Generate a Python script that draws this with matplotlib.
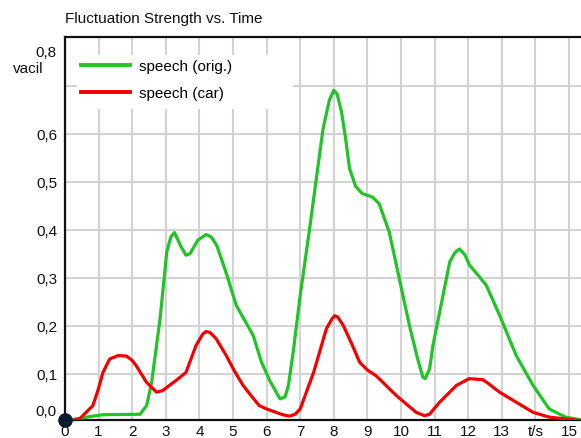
import matplotlib.pyplot as plt
from matplotlib.patches import Rectangle
from matplotlib.transforms import blended_transform_factory

plt.rcParams['font.family'] = ['Liberation Sans', 'DejaVu Sans']

# fluctuation strength (vacil) over time (s)
t_orig = [0.0, 0.4, 0.83, 1.13, 2.23, 2.43, 2.58, 2.83, 3.03, 3.15, 3.26, 3.45,
          3.6, 3.72, 3.95, 4.2, 4.35, 4.52, 4.82, 5.1, 5.4, 5.6, 5.85, 6.1,
          6.4, 6.55, 6.65, 6.8, 7.0, 7.28, 7.68, 7.87, 8.0, 8.1, 8.23, 8.35,
          8.47, 8.65, 8.85, 9.15, 9.35, 9.65, 9.95, 10.25, 10.5, 10.65, 10.72,
          10.85, 10.95, 11.25, 11.45, 11.6, 11.74, 11.9, 12.04, 12.3, 12.54,
          12.94, 13.43, 13.93, 14.41, 14.9, 15.3]
fs_orig = [0.003, 0.007, 0.012, 0.015, 0.016, 0.034, 0.083, 0.215, 0.354, 0.385,
           0.394, 0.365, 0.347, 0.350, 0.378, 0.390, 0.385, 0.367, 0.305, 0.242,
           0.205, 0.180, 0.124, 0.085, 0.048, 0.052, 0.076, 0.150, 0.263, 0.402,
           0.610, 0.670, 0.690, 0.682, 0.645, 0.590, 0.527, 0.490, 0.475, 0.468,
           0.454, 0.395, 0.298, 0.201, 0.130, 0.093, 0.090, 0.110, 0.159, 0.263,
           0.333, 0.352, 0.360, 0.348, 0.326, 0.305, 0.284, 0.221, 0.138, 0.076,
           0.027, 0.010, 0.005]

t_car = [0.0, 0.43, 0.83, 1.0, 1.13, 1.33, 1.58, 1.83, 2.0, 2.12, 2.42, 2.72,
         2.9, 3.3, 3.6, 3.9, 4.1, 4.2, 4.32, 4.5, 4.8, 5.05, 5.3, 5.5, 5.78,
         6.0, 6.48, 6.68, 6.85, 7.0, 7.4, 7.78, 7.95, 8.03, 8.12, 8.28, 8.55,
         8.77, 9.0, 9.26, 9.86, 10.45, 10.7, 10.85, 11.15, 11.65, 12.03, 12.43,
         12.6, 12.93, 13.43, 13.93, 14.41, 15.3]
fs_car = [0.0, 0.006, 0.034, 0.070, 0.103, 0.131, 0.138, 0.137, 0.128, 0.117,
          0.083, 0.062, 0.065, 0.086, 0.103, 0.159, 0.183, 0.188, 0.186, 0.173,
          0.138, 0.105, 0.076, 0.058, 0.034, 0.027, 0.015, 0.012, 0.016, 0.027,
          0.103, 0.194, 0.215, 0.221, 0.218, 0.201, 0.160, 0.124, 0.108, 0.096,
          0.055, 0.020, 0.013, 0.016, 0.041, 0.076, 0.090, 0.088, 0.080, 0.062,
          0.041, 0.020, 0.010, 0.003]

x_ticks = list(range(16))
x_labels = [str(i) for i in x_ticks]
x_labels[14] = 't/s'
y_ticks = [0.1, 0.2, 0.3, 0.4, 0.5, 0.6, 0.7]
y_labels = ['0,1', '0,2', '0,3', '0,4', '0,5', '0,6', '']

fig = plt.figure(figsize=(5.81, 4.39), dpi=100)
ax = fig.add_axes([65 / 581, 18 / 439, 516 / 581, 383.5 / 439])

ax.plot(t_orig, fs_orig, color='#1fc426', lw=2.3, label='speech (orig.)', zorder=3)
ax.plot(t_car, fs_car, color='#f50000', lw=2.3, label='speech (car)', zorder=3)

ax.set_xlim(0, 516 / 33.6)
ax.set_ylim(0.004, 0.802)
ax.set_xticks(x_ticks)
ax.set_xticklabels(x_labels)
ax.set_yticks(y_ticks)
ax.set_yticklabels(y_labels)
ax.tick_params(length=0, labelsize=11, colors='#111111')
ax.tick_params(axis='x', pad=3.2)
ax.tick_params(axis='y', pad=5.5)
ax.set_axisbelow(True)
ax.grid(color='#d3d3d3', lw=1.5)

for side in ['left', 'top', 'bottom']:
    ax.spines[side].set_linewidth(1.6)
    ax.spines[side].set_color('#111111')
ax.spines['right'].set_visible(False)

# end labels of the y axis sit off their gridlines
ylab = blended_transform_factory(ax.transAxes, ax.transData)
ax.annotate('0,0', xy=(0, 0.004), xycoords=ylab, xytext=(-8, 9),
            textcoords='offset pixels', ha='right', va='center', fontsize=11,
            color='#111111')
ax.annotate('0,8', xy=(0, 0.802), xycoords=ylab, xytext=(-8, -15),
            textcoords='offset pixels', ha='right', va='center', fontsize=11,
            color='#111111')
ax.annotate('vacil', xy=(0, 0.802), xycoords=ylab, xytext=(-22, -31),
            textcoords='offset pixels', ha='right', va='center', fontsize=11,
            color='#111111')

# origin marker
ax.plot(0, 0, 'o', color='#0b1a2e', ms=9.5, transform=ax.transAxes,
        clip_on=False, zorder=6)

# white panel behind the legend
ax.add_patch(Rectangle((0.023, 0.811), 0.419, 0.141, transform=ax.transAxes,
                       facecolor='white', edgecolor='none', zorder=1))
leg = ax.legend(loc='center left', bbox_to_anchor=(0.031, 0.887), frameon=False,
                fontsize=11, borderpad=0, borderaxespad=0, handlelength=3.2,
                handletextpad=0.58, labelspacing=0.83)
for line in leg.get_lines():
    line.set_linewidth(2.8)

fig.text(65 / 581, 1 - 19 / 439, 'Fluctuation Strength vs. Time', fontsize=11,
         ha='left', va='center', color='#111111')

fig.savefig('out.png', dpi=100)
